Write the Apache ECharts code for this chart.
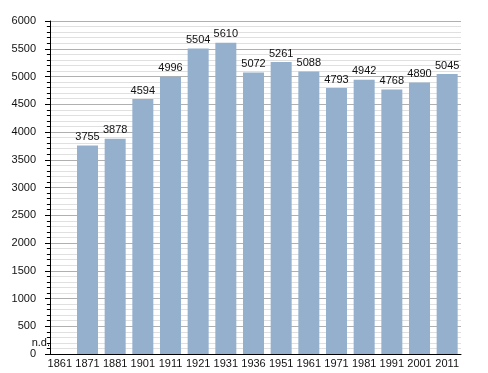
<!DOCTYPE html>
<html><head><meta charset="utf-8">
<script src="https://cdn.jsdelivr.net/npm/echarts@6/dist/echarts.min.js"></script>
<style>html,body{margin:0;padding:0;background:#fff}#c{width:488px;height:373px}</style>
</head><body><div id="c"></div>
<script>
var years = ['1861','1871','1881','1901','1911','1921','1931','1936','1951','1961','1971','1981','1991','2001','2011'];
var population = [0,3755,3878,4594,4996,5504,5610,5072,5261,5088,4793,4942,4768,4890,5045];
var yTicks = [0,500,1000,1500,2000,2500,3000,3500,4000,4500,5000,5500,6000];
var missingLabel = 'n.d.';

var chart = echarts.init(document.getElementById('c'), null, {renderer:'canvas'});
var font = 'Liberation Sans, Arial, sans-serif';
chart.setOption({
  animation:false,
  grid:{left:46,right:27,top:21,bottom:19,containLabel:false},
  xAxis:{type:'category',data:years,boundaryGap:true,
    axisLine:{show:true,lineStyle:{color:'#000',width:1}},
    axisTick:{show:false},
    axisLabel:{color:'#111',fontSize:11,fontFamily:font,margin:4,interval:0}},
  yAxis:{type:'value',min:yTicks[0],max:yTicks[yTicks.length-1],interval:500,offset:-4,
    axisLine:{show:true,lineStyle:{color:'#000',width:1}},
    axisTick:{show:true,inside:false,length:5,lineStyle:{color:'#000'}},
    minorTick:{show:true,splitNumber:5,length:3,lineStyle:{color:'#000'}},
    splitLine:{show:true,lineStyle:{color:'#b0b0b0',width:1}},
    minorSplitLine:{show:true,lineStyle:{color:'#e0e0e0',width:1}},
    axisLabel:{color:'#111',fontSize:11,fontFamily:font,margin:14,formatter:function(v){return String(v);}}},
  series:[{type:'bar',barWidth:21,
    data:population.map(function(v,i){
      if(v===0){return {value:v,itemStyle:{color:'rgba(0,0,0,0)'},label:{show:true,formatter:missingLabel,offset:[-19,-3]}};}
      return v;}),
    itemStyle:{color:'#95b0cc'},
    label:{show:true,position:'top',distance:3,color:'#111',fontSize:11,fontFamily:font}
  }]
});
</script></body></html>
